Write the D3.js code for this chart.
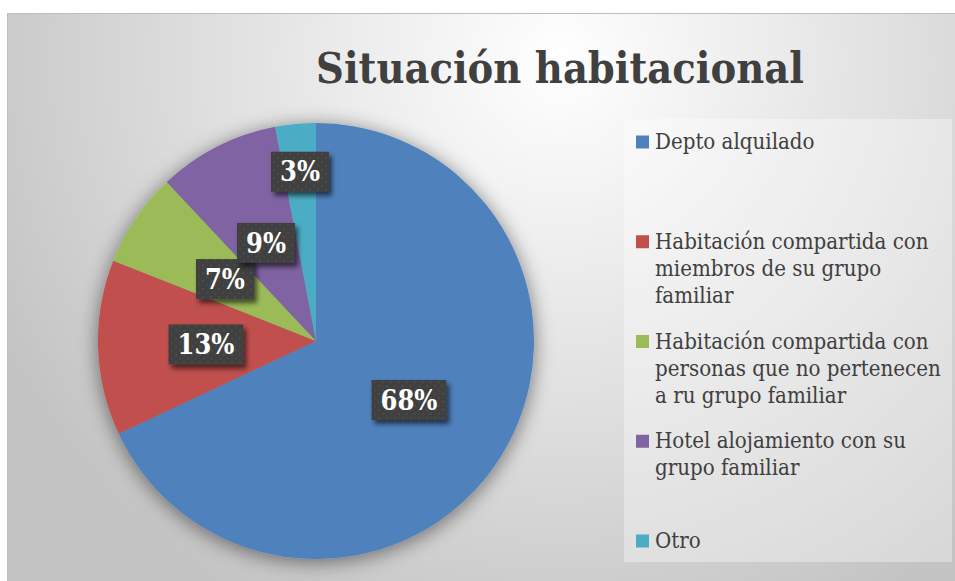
<!DOCTYPE html>
<html><head><meta charset="utf-8">
<script src="https://cdn.jsdelivr.net/npm/d3@7"></script>
<style>
html,body{margin:0;padding:0;background:#fff;}
svg{display:block;}
</style></head>
<body>
<svg id="chart" width="955" height="581"></svg>
<script>
const categories = [
  "Depto alquilado",
  "Habitación compartida con miembros de su grupo familiar",
  "Habitación compartida con personas que no pertenecen a ru grupo familiar",
  "Hotel alojamiento con su grupo familiar",
  "Otro"
];
const values = [68, 13, 7, 9, 3];
const colors = ["#4f81bd", "#c0504d", "#9bbb59", "#8064a2", "#4bacc6"];
const title = "Situación habitacional";

const FONT = "'DejaVu Serif Condensed', 'DejaVu Serif', 'Liberation Serif', serif";
const svg = d3.select("#chart");
const defs = svg.append("defs");

// background gradient
const bg = defs.append("radialGradient").attr("id","bgGrad")
  .attr("cx", 560).attr("cy", 60).attr("r", 620).attr("gradientUnits","userSpaceOnUse");
bg.append("stop").attr("offset","0%").attr("stop-color","#ffffff");
bg.append("stop").attr("offset","55%").attr("stop-color","#e0e0e0");
bg.append("stop").attr("offset","100%").attr("stop-color","#c4c4c4");

// pie shadow
const sh = defs.append("filter").attr("id","pieShadow").attr("x","-30%").attr("y","-30%").attr("width","160%").attr("height","160%");
sh.append("feGaussianBlur").attr("in","SourceAlpha").attr("stdDeviation", 10).attr("result","b");
sh.append("feOffset").attr("in","b").attr("dx",0).attr("dy",3).attr("result","o");
sh.append("feComponentTransfer").attr("in","o").attr("result","o2")
  .append("feFuncA").attr("type","linear").attr("slope",0.5);
const m1 = sh.append("feMerge");
m1.append("feMergeNode").attr("in","o2");
m1.append("feMergeNode").attr("in","SourceGraphic");

// label shadow
const ls = defs.append("filter").attr("id","lblShadow").attr("x","-30%").attr("y","-30%").attr("width","170%").attr("height","180%");
ls.append("feGaussianBlur").attr("in","SourceAlpha").attr("stdDeviation", 2.5).attr("result","b");
ls.append("feOffset").attr("in","b").attr("dx",3).attr("dy",4).attr("result","o");
ls.append("feComponentTransfer").attr("in","o").attr("result","o2")
  .append("feFuncA").attr("type","linear").attr("slope",0.6);
const m2 = ls.append("feMerge");
m2.append("feMergeNode").attr("in","o2");
m2.append("feMergeNode").attr("in","SourceGraphic");

// dotted pattern for labels
const pat = defs.append("pattern").attr("id","dots").attr("patternUnits","userSpaceOnUse")
  .attr("width",8).attr("height",8);
pat.append("rect").attr("width",8).attr("height",8).attr("fill","#3f3f3f");
pat.append("circle").attr("cx",2).attr("cy",2).attr("r",1.3).attr("fill","#4c4c4c");
pat.append("circle").attr("cx",6).attr("cy",6).attr("r",1.3).attr("fill","#484848");

// chart area
svg.append("rect").attr("x",7.5).attr("y",13.5).attr("width",960).attr("height",580)
  .attr("fill","url(#bgGrad)").attr("stroke","#bdbdbd").attr("stroke-width",1);

// title
const titleText = svg.append("text").attr("x", 560).attr("y", 83)
  .attr("text-anchor","middle").attr("font-family",FONT).attr("font-weight","bold")
  .attr("font-size",46).attr("fill","#404040").text(title);
{
  const w = titleText.node().getComputedTextLength();
  titleText.attr("font-size", 46 * 488 / w);
}

// pie
const cx = 316, cy = 341, R = 218;
const pie = d3.pie().sort(null).value(d => d)(values);
const arc = d3.arc().innerRadius(0).outerRadius(R);
const g = svg.append("g").attr("transform",`translate(${cx},${cy})`);
g.append("g").attr("filter","url(#pieShadow)")
  .selectAll("path").data(pie).join("path")
  .attr("d", arc).attr("fill",(d,i)=>colors[i]);

// labels
const lblArcIn = d3.arc().innerRadius(R*0.505).outerRadius(R*0.505);
const lblArcOut = d3.arc().innerRadius(R*0.78).outerRadius(R*0.78);
const fmt = d3.format(".0%");
const total = d3.sum(values);
const lg = g.append("g");
pie.forEach((d,i) => {
  const pos = (values[i] / total < 0.05 ? lblArcOut : lblArcIn).centroid(d);
  const txt = fmt(values[i]/total);
  const gg = lg.append("g").attr("transform",`translate(${pos[0]},${pos[1]})`);
  const t = gg.append("text").attr("text-anchor","middle").attr("dy","0.36em")
    .attr("font-family",FONT).attr("font-weight","bold").attr("font-size",27)
    .attr("fill","#ffffff").text(txt);
  const w = t.node().getComputedTextLength();
  gg.insert("rect","text").attr("x",-w/2-9).attr("y",-20).attr("width",w+18).attr("height",40)
    .attr("fill","url(#dots)").attr("filter","url(#lblShadow)");
});

// legend
const lx = 624, ly = 119, lw = 328, lh = 443;
svg.append("rect").attr("x",lx).attr("y",ly).attr("width",lw).attr("height",lh)
  .attr("fill","#ffffff").attr("fill-opacity",0.35);
const legendFont = 20;
const legendY = d3.scalePoint().domain(d3.range(categories.length)).range([142, 541]);
const maxW = 292;
const leg = svg.append("g");
// calibrate font size
const probe = leg.append("text").attr("font-family",FONT).attr("font-size",legendFont).text("personas que no pertenecen");
const fs = legendFont * 286 / probe.node().getComputedTextLength();
probe.remove();
categories.forEach((c,i) => {
  const y0 = legendY(i);
  leg.append("rect").attr("x",636).attr("y",y0-6.5).attr("width",13).attr("height",13).attr("fill",colors[i]);
  const t = leg.append("text").attr("x",655).attr("y",y0 + 7)
    .attr("font-family",FONT).attr("font-size",fs).attr("fill","#404040");
  const words = c.split(" ");
  let line = [];
  let ts = t.append("tspan").attr("x",655).attr("dy", 0);
  words.forEach(wd => {
    line.push(wd);
    ts.text(line.join(" "));
    if (ts.node().getComputedTextLength() > maxW && line.length > 1) {
      line.pop();
      ts.text(line.join(" "));
      line = [wd];
      ts = t.append("tspan").attr("x",655).attr("dy", 27).text(wd);
    }
  });
});
</script>
</body></html>
